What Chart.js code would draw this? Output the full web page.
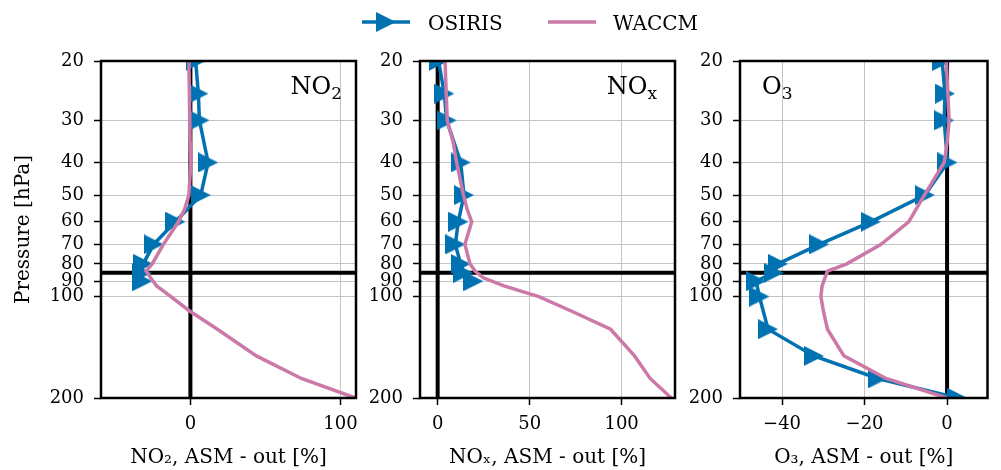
<!DOCTYPE html>
<html>
<head>
<meta charset="utf-8">
<title>ASM - out profiles</title>
<script src="https://cdn.jsdelivr.net/npm/chart.js@4.4.1/dist/chart.umd.min.js"></script>
<style>
    html, body { margin: 0; padding: 0; background: #fff; }
    #wrap { position: relative; width: 1001px; height: 470px; overflow: hidden; }
    #wrap canvas { position: absolute; left: 0; top: 0; }
    .lg { position: absolute; font-family: 'DejaVu Serif', serif; font-size: 20px; line-height: 20px; color: #000; }
    svg.lg { overflow: visible; }
</style>
</head>
<body>
<div id="wrap">
    <canvas id="panelNO2" width="1001" height="470"></canvas>
    <canvas id="panelNOx" width="1001" height="470"></canvas>
    <canvas id="panelO3" width="1001" height="470"></canvas>

    <svg class="lg" style="left:362px; top:10px" width="48" height="24">
        <line x1="0" y1="12" x2="48" y2="12" stroke="#0072B2" stroke-width="3.5"/>
        <polygon points="14,2 34,12 14,22" fill="#0072B2"/>
    </svg>
    <span class="lg" style="left:428px; top:13px">OSIRIS</span>
    <svg class="lg" style="left:548px; top:10px" width="48" height="24">
        <line x1="0" y1="12" x2="48" y2="12" stroke="#CC79A7" stroke-width="3.5"/>
    </svg>
    <span class="lg" style="left:613px; top:13px">WACCM</span>
</div>

<script>
// Pressure levels [hPa]
const osirisPressure = [20, 25, 30, 40, 50, 60, 70, 80, 85, 90, 100, 125, 150, 175, 200];
const waccmPressure = [20, 30, 35, 40, 50, 55, 60, 70, 80, 84, 88, 93, 100, 110, 125, 150, 175, 200];

// ASM - out differences [%]
const osirisNO2 = [3.5, 5.3, 6, 11.8, 6.9, -10, -24.5, -31.5, -32.5, -32, null, null, null, null, null];
const osirisNOx = [0.5, 3.6, 4.9, 12.5, 14.3, 11.2, 9.6, 12.5, 14, 19.4, null, null, null, null, null];
const osirisO3 = [-1.2, -0.5, -0.7, 0.1, -5.4, -18.5, -31, -41, -42, -46.3, -45.5, -43.4, -32.3, -16.8, 2.5];

const waccmNO2 = [-1, -0.4, -0.2, 0.3, -1, -3.8, -8, -18, -25.5, -29.5, -26.5, -22.5, -13, -1, 18, 44, 74, 110];
const waccmNOx = [4, 5.2, 8.5, 10.3, 14, 16, 18.5, 14.8, 17.6, 20.3, 24.8, 36, 55, 72, 94, 107, 115.5, 127];
const waccmO3 = [-0.2, 0.5, 0, -0.7, -5.5, -7.5, -9.3, -16, -24.3, -29, -29.6, -30.3, -30.6, -30, -29, -25, -14.8, 0];

// Axes
const pressureTicks = [20, 30, 40, 50, 60, 70, 80, 90, 100, 200];
const pressureRange = [20, 200];
const tropopause = 85;
const zeroLine = 0;

const rangeNO2 = [-59.6, 110.4];
const rangeNOx = [-9.6, 129];
const rangeO3 = [-50.2, 9.8];
const ticksNO2 = [0, 100];
const ticksNOx = [0, 50, 100];
const ticksO3 = [-40, -20, 0];

const BLUE = '#0072B2';
const PINK = '#CC79A7';
const FONT = "'DejaVu Serif', serif";

Chart.defaults.font.family = FONT;
Chart.defaults.font.size = 18;
Chart.defaults.color = '#000';

function toPoints(values, pressure) {
    const pts = [];
    values.forEach((v, i) => {
        if (v !== null) pts.push({ x: v, y: pressure[i] });
    });
    return pts;
}

function triangleMarker(size, color) {
    const c = document.createElement('canvas');
    c.width = size;
    c.height = size;
    const g = c.getContext('2d');
    g.fillStyle = color;
    g.beginPath();
    g.moveTo(0, 0);
    g.lineTo(size, size / 2);
    g.lineTo(0, size);
    g.closePath();
    g.fill();
    return c;
}

function fmtTick(v) {
    return v < 0 ? '\u2212' + Math.abs(v) : String(v);
}

// Frame round the plot area + species label in the corner
const panelDecor = {
    id: 'panelDecor',
    afterDatasetsDraw(chart, args, opts) {
        const { ctx, chartArea: a } = chart;
        ctx.save();
        ctx.strokeStyle = '#000';
        ctx.lineWidth = 2.5;
        ctx.strokeRect(a.left, a.top, a.right - a.left, a.bottom - a.top);

        ctx.fillStyle = '#000';
        ctx.textBaseline = 'alphabetic';
        const mainFont = '24px ' + FONT;
        const subFont = '17px ' + FONT;
        ctx.font = mainFont;
        const wMain = ctx.measureText(opts.main).width;
        ctx.font = subFont;
        const wSub = ctx.measureText(opts.sub).width;
        const x = opts.align === 'right' ? a.right - opts.inset - wMain - wSub : a.left + opts.inset;
        const y = a.top + 33;
        ctx.font = mainFont;
        ctx.textAlign = 'left';
        ctx.fillText(opts.main, x, y);
        ctx.font = subFont;
        ctx.fillText(opts.sub, x + wMain, y + 5);
        ctx.restore();
    }
};

const marker = triangleMarker(20, BLUE);

function makePanel(id, p) {
    const ctx = document.getElementById(id);
    return new Chart(ctx, {
        type: 'scatter',
        data: {
            datasets: [
                {
                    label: 'WACCM',
                    data: toPoints(p.waccm, waccmPressure),
                    showLine: true,
                    borderColor: PINK,
                    borderWidth: 3.5,
                    pointRadius: 0,
                    clip: 0,
                    order: 0
                },
                {
                    label: 'OSIRIS',
                    data: toPoints(p.osiris, osirisPressure),
                    showLine: true,
                    borderColor: BLUE,
                    borderWidth: 3.5,
                    pointStyle: marker,
                    pointRadius: 10,
                    pointBackgroundColor: BLUE,
                    clip: 0,
                    order: 1
                },
                {
                    data: [{ x: zeroLine, y: pressureRange[0] }, { x: zeroLine, y: pressureRange[1] }],
                    showLine: true,
                    borderColor: '#000',
                    borderWidth: 4,
                    pointRadius: 0,
                    clip: 0,
                    order: 2
                },
                {
                    data: [{ x: p.range[0], y: tropopause }, { x: p.range[1], y: tropopause }],
                    showLine: true,
                    borderColor: '#000',
                    borderWidth: 4,
                    pointRadius: 0,
                    clip: 0,
                    order: 3
                }
            ]
        },
        options: {
            responsive: false,
            animation: false,
            events: [],
            layout: { padding: { left: p.left, right: p.right, top: 61, bottom: 0 } },
            plugins: {
                legend: { display: false },
                tooltip: { enabled: false },
                panelDecor: p.label
            },
            scales: {
                x: {
                    type: 'linear',
                    min: p.range[0],
                    max: p.range[1],
                    afterBuildTicks: s => { s.ticks = p.ticks.map(v => ({ value: v })); },
                    afterFit: s => { s.height = 72; },
                    border: { display: false },
                    grid: { color: '#c4c4c4', lineWidth: 1, tickColor: '#000', tickLength: 7, tickWidth: 1.5 },
                    ticks: { padding: 9, autoSkip: false, maxRotation: 0, callback: fmtTick },
                    title: {
                        display: true,
                        text: p.title,
                        font: { size: 20, lineHeight: 1.2 },
                        padding: { top: 0, bottom: 0 }
                    }
                },
                y: {
                    type: 'logarithmic',
                    reverse: true,
                    min: pressureRange[0],
                    max: pressureRange[1],
                    afterBuildTicks: s => { s.ticks = pressureTicks.map(v => ({ value: v })); },
                    afterFit: s => { s.width = p.yWidth; },
                    border: { display: false },
                    grid: { color: '#c4c4c4', lineWidth: 1, tickColor: '#000', tickLength: 7, tickWidth: 1.5 },
                    ticks: { padding: 10, autoSkip: false, callback: v => String(v) },
                    title: {
                        display: p.yTitle,
                        text: 'Pressure [hPa]',
                        font: { size: 20, lineHeight: 1.2 },
                        padding: { top: 12, bottom: 0 }
                    }
                }
            }
        },
        plugins: [panelDecor]
    });
}

makePanel('panelNO2', {
    osiris: osirisNO2, waccm: waccmNO2, range: rangeNO2, ticks: ticksNO2,
    left: 0, yWidth: 101, right: 1001 - 356, yTitle: true,
    title: 'NO\u2082, ASM - out [%]',
    label: { main: 'NO', sub: '2', align: 'right', inset: 14 }
});
makePanel('panelNOx', {
    osiris: osirisNOx, waccm: waccmNOx, range: rangeNOx, ticks: ticksNOx,
    left: 360, yWidth: 60, right: 1001 - 675, yTitle: false,
    title: 'NO\u2093, ASM - out [%]',
    label: { main: 'NO', sub: 'x', align: 'right', inset: 18 }
});
makePanel('panelO3', {
    osiris: osirisO3, waccm: waccmO3, range: rangeO3, ticks: ticksO3,
    left: 680, yWidth: 60, right: 1001 - 994, yTitle: false,
    title: 'O\u2083, ASM - out [%]',
    label: { main: 'O', sub: '3', align: 'left', inset: 22 }
});
</script>
</body>
</html>
